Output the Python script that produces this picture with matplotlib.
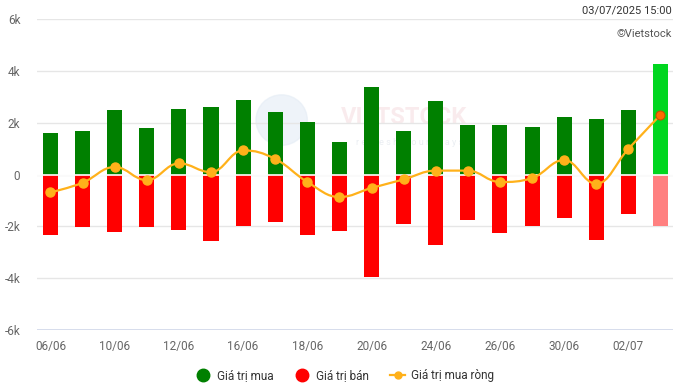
import matplotlib
matplotlib.use('Agg')
import matplotlib.pyplot as plt
from matplotlib.path import Path
from matplotlib.patches import PathPatch, Ellipse
from matplotlib.lines import Line2D
import numpy as np

plt.rcParams['font.family'] = ['Roboto', 'DejaVu Sans']

dates = ['06/06', '09/06', '10/06', '11/06', '12/06', '13/06', '16/06', '17/06', '18/06', '19/06',
         '20/06', '23/06', '24/06', '25/06', '26/06', '27/06', '30/06', '01/07', '02/07', '03/07']
buy = [1.62, 1.69, 2.49, 1.81, 2.54, 2.62, 2.87, 2.42, 2.04, 1.27,
       3.37, 1.69, 2.83, 1.92, 1.92, 1.85, 2.23, 2.15, 2.49, 4.27]
sell = [-2.33, -2.02, -2.21, -2.02, -2.14, -2.56, -1.98, -1.83, -2.33, -2.18,
        -3.97, -1.92, -2.72, -1.75, -2.26, -1.98, -1.68, -2.52, -1.52, -1.98]
net = [-0.69, -0.32, 0.29, -0.22, 0.43, 0.09, 0.93, 0.60, -0.29, -0.87,
       -0.52, -0.19, 0.15, 0.15, -0.29, -0.14, 0.56, -0.36, 0.99, 2.30]

GREEN = '#008000'
RED = '#ff0000'
LINE = '#ffb11a'


def spline_path(xs, ys, smoothing=1.5):
    # highcharts-style spline through the points
    n = len(xs)
    verts = [(xs[0], ys[0])]
    codes = [Path.MOVETO]
    right = [None] * n
    left = [None] * n
    denom = smoothing + 1
    for i in range(1, n - 1):
        px, py = xs[i], ys[i]
        lx, ly = xs[i - 1], ys[i - 1]
        nx, ny = xs[i + 1], ys[i + 1]
        lcx = (smoothing * px + lx) / denom
        lcy = (smoothing * py + ly) / denom
        rcx = (smoothing * px + nx) / denom
        rcy = (smoothing * py + ny) / denom
        corr = (rcy - lcy) * (rcx - px) / (rcx - lcx) + py - rcy
        lcy += corr
        rcy += corr
        if lcy > ly and lcy > py:
            lcy = max(ly, py); rcy = 2 * py - lcy
        elif lcy < ly and lcy < py:
            lcy = min(ly, py); rcy = 2 * py - lcy
        if rcy > ny and rcy > py:
            rcy = max(ny, py); lcy = 2 * py - rcy
        elif rcy < ny and rcy < py:
            rcy = min(ny, py); lcy = 2 * py - rcy
        left[i] = (lcx, lcy)
        right[i] = (rcx, rcy)
    for i in range(1, n):
        c1 = right[i - 1] or (xs[i - 1], ys[i - 1])
        c2 = left[i] or (xs[i], ys[i])
        verts += [c1, c2, (xs[i], ys[i])]
        codes += [Path.CURVE4] * 3
    return Path(verts, codes)


fig = plt.figure(figsize=(6.73, 3.9), dpi=100)
ax = fig.add_axes([37 / 673, 60 / 390, 636 / 673, 311 / 390])

x = np.arange(len(dates))
buy_colors = [GREEN] * (len(x) - 1) + ['#00d61f']
sell_colors = [RED] * (len(x) - 1) + ['#ff8080']
ax.bar(x, buy, width=0.47, color=buy_colors, zorder=2)
ax.bar(x, sell, width=0.47, color=sell_colors, zorder=2)
ax.axhline(0, color='white', lw=1.2, zorder=3)

ax.add_patch(PathPatch(spline_path(list(x), net), fill=False, edgecolor=LINE, lw=1.6, zorder=4))
ax.plot(x[:-1], net[:-1], 'o', color=LINE, ms=6.5, zorder=5)
ax.plot(x[-1:], net[-1:], 'o', color='#ff6a00', mec='#c45200', mew=0.8, ms=6.5, zorder=5)

ax.set_xlim(-0.42, 19.39)
ax.set_ylim(-6, 6)
ax.set_yticks([-6, -4, -2, 0, 2, 4, 6])
ax.set_yticklabels(['-6k', '-4k', '-2k', '0', '2k', '4k', '6k'])
ax.set_xticks(x[::2])
ax.set_xticklabels(dates[::2])
ax.tick_params(axis='y', length=0, pad=12, labelsize=8.5, labelcolor='#666666')
ax.tick_params(axis='x', length=0, pad=7, labelsize=8.5, labelcolor='#666666')
ax.grid(axis='y', color='#e6e6e6', lw=1, zorder=0)
for s in ax.spines.values():
    s.set_visible(False)
ax.axhline(-6, color='#ccd6eb', lw=1.2, zorder=1)

# faint watermark
ax.add_patch(Ellipse((7.2, 2.1), 1.6, 1.95, color='#e4ecf5', alpha=0.6, zorder=1))
ax.text(11.0, 2.2, 'VIETSTOCK', fontsize=17, color='#f4d8dc', alpha=0.5, ha='center', va='center',
        fontweight='bold', zorder=1)
ax.text(11.2, 1.25, 'r e f r e s h   y o u r   w a y s', fontsize=6.5, color='#dde3ea', alpha=0.6,
        ha='center', va='center', zorder=1)

fig.text(672 / 673, 1 - 10 / 390, '03/07/2025 15:00', ha='right', va='center', fontsize=8, color='#333333')
fig.text(672 / 673, 1 - 34 / 390, '©Vietstock', ha='right', va='center', fontsize=8, color='#555555')

handles = [
    Line2D([], [], ls='none', marker='o', color=GREEN, ms=9),
    Line2D([], [], ls='none', marker='o', color=RED, ms=9),
    Line2D([], [], color=LINE, lw=1.6, marker='o', ms=5),
]
fig.legend(handles, ['Giá trị mua', 'Giá trị bán', 'Giá trị mua ròng'], loc='center',
           bbox_to_anchor=(345 / 673, 1 - 376 / 390), ncol=3, frameon=False, fontsize=8.5,
           labelcolor='#333333', handlelength=1.3, handletextpad=0.5, columnspacing=1.8)

fig.savefig('out.png', dpi=100)
